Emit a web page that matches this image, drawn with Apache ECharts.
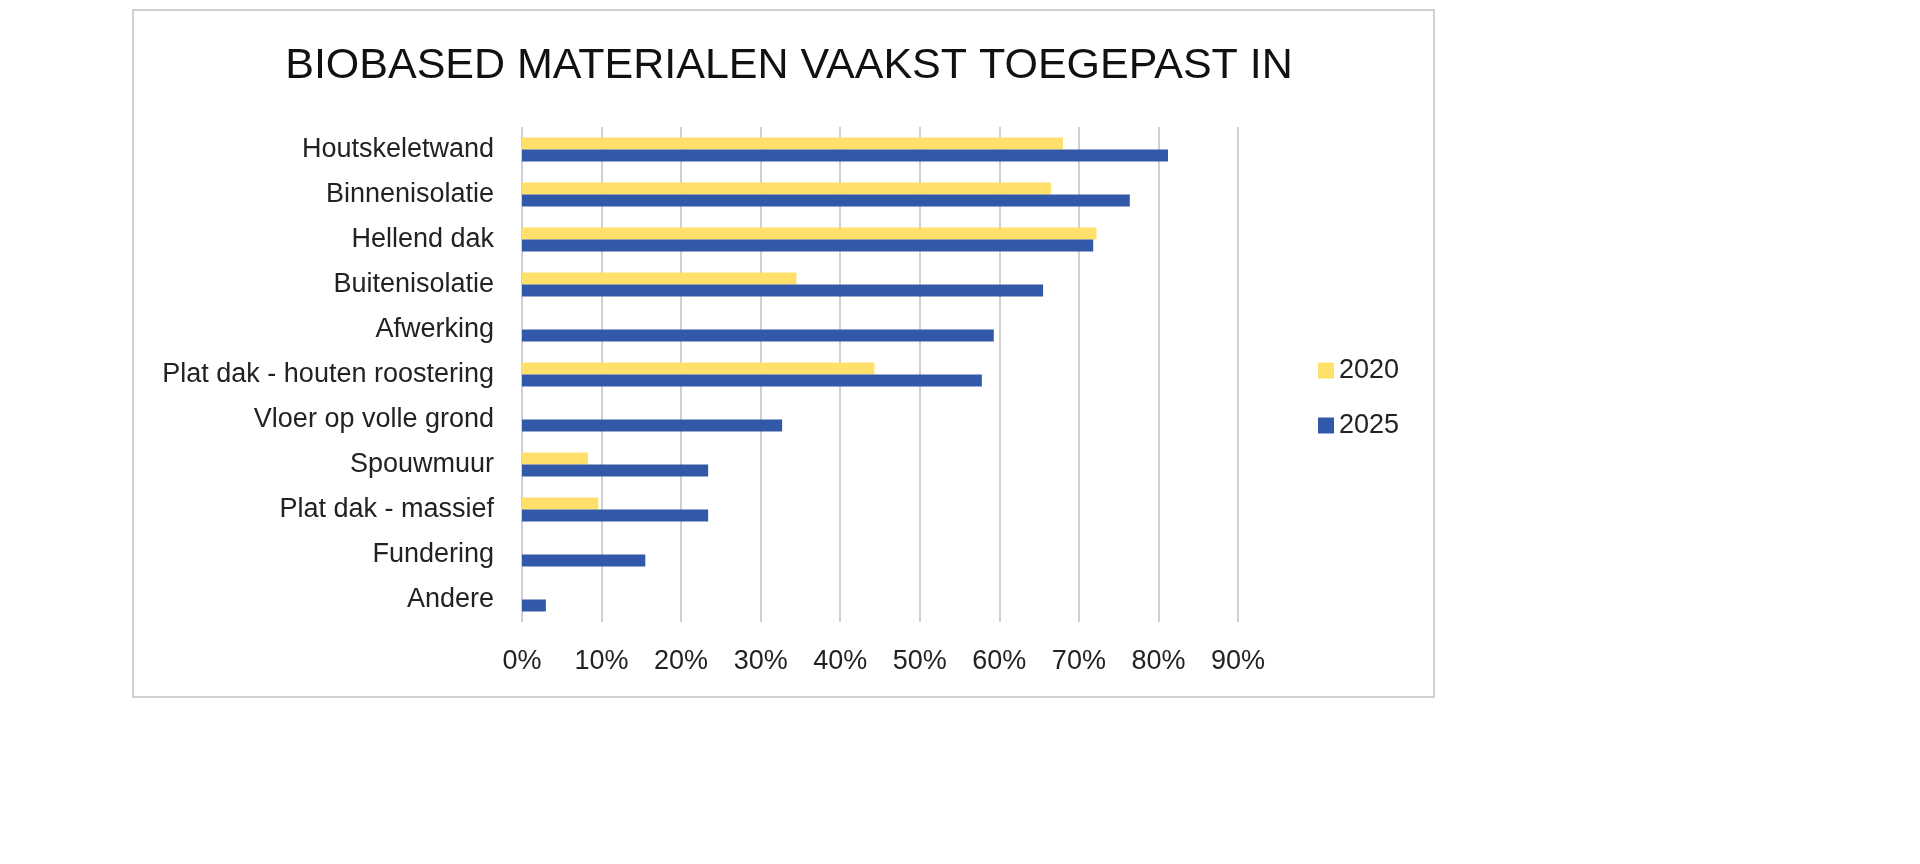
<!DOCTYPE html>
<html><head><meta charset="utf-8">
<script src="https://cdn.jsdelivr.net/npm/echarts@6/dist/echarts.min.js"></script>
<style>html,body{margin:0;background:#fff}#c{width:1920px;height:864px}</style>
</head><body><div id="c"></div>
<script>
const categories=["Houtskeletwand","Binnenisolatie","Hellend dak","Buitenisolatie","Afwerking","Plat dak - houten roostering","Vloer op volle grond","Spouwmuur","Plat dak - massief","Fundering","Andere"];
const values2020=[68,66.5,72.2,34.5,null,44.3,null,8.3,9.6,null,null];
const values2025=[81.2,76.4,71.8,65.5,59.3,57.8,32.7,23.4,23.4,15.5,3.0];
const chart=echarts.init(document.getElementById('c'));
chart.setOption({
 backgroundColor:'#fff',
 textStyle:{fontFamily:'Helvetica, Liberation Sans, Arial, sans-serif'},
 graphic:[{type:'rect',shape:{x:133,y:10,width:1301,height:687},style:{fill:'none',stroke:'#d0d0d0',lineWidth:2}}],
 title:{text:'BIOBASED MATERIALEN VAAKST TOEGEPAST IN',left:784,top:40,textAlign:'center',textStyle:{fontSize:43,fontWeight:'normal',color:'#111'}},
 legend:{orient:'vertical',left:1313,top:352,itemGap:28,itemWidth:16,itemHeight:16,icon:'rect',textStyle:{fontSize:27,color:'#222'},data:['2020','2025']},
 grid:{left:522,right:1920-1238,top:127,bottom:864-622,containLabel:false},
 xAxis:{type:'value',min:0,max:90,interval:10,axisLabel:{formatter:'{value}%',fontSize:27,color:'#222',margin:26},splitLine:{lineStyle:{color:'#d0d0d0',width:2}},axisLine:{show:false},axisTick:{show:false}},
 yAxis:{type:'category',inverse:true,data:categories,axisLabel:{fontSize:27,color:'#222',margin:28},axisLine:{show:false},axisTick:{show:false}},
 series:[
  {name:'2020',type:'bar',data:values2020,barWidth:12,barGap:'0%',itemStyle:{color:'#FFE06B'}},
  {name:'2025',type:'bar',data:values2025,barWidth:12,itemStyle:{color:'#3259A8'}}
 ]
});
</script></body></html>
